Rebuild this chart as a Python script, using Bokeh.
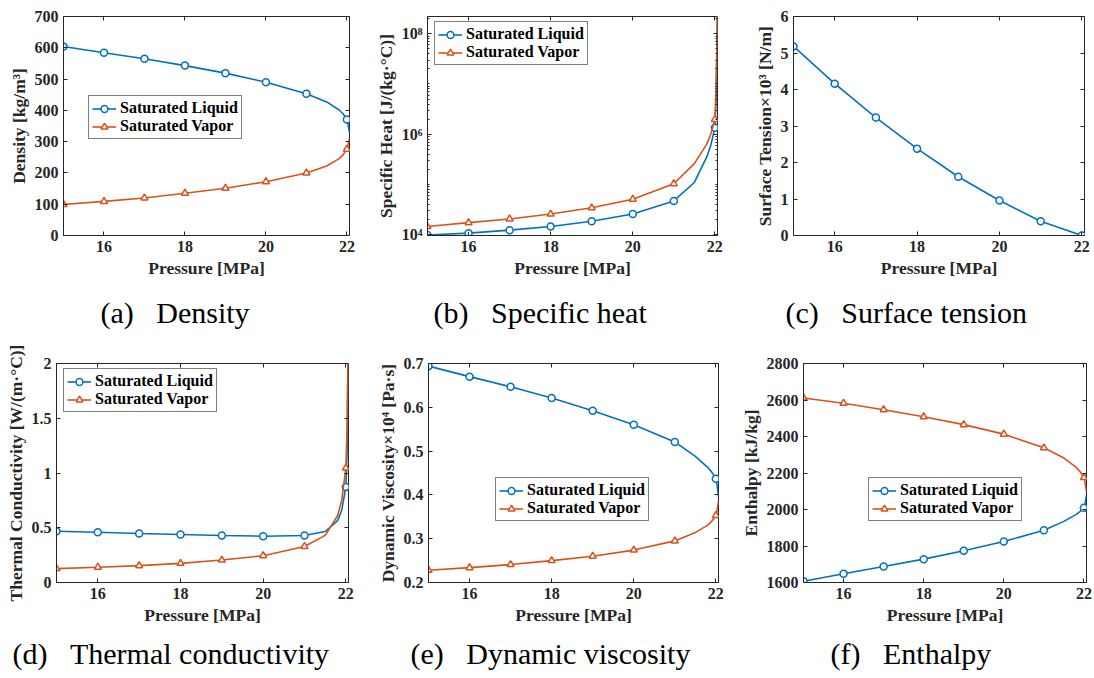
from bokeh.plotting import figure
from bokeh.models import (Range1d, FixedTicker, LinearAxis, LogAxis, Legend,
                          LegendItem, Title)
from bokeh.layouts import column, row
from bokeh.embed import file_html
from bokeh.resources import INLINE

# ---------------- data ----------------
pressure_marks = [15, 16, 17, 18, 19, 20, 21, 22]
pressure_curve = [15, 16, 17, 18, 19, 20, 21, 21.5, 21.8, 21.9, 22, 22.03, 22.064]

density_liquid = [604, 584, 565, 543, 519, 490, 453, 427, 402, 390, 371, 354, 330]
density_vapor = [99, 109, 120, 135, 151, 172, 200, 222, 245, 257, 276, 291, 310]

cp_liquid = [9.9e3, 1.08e4, 1.24e4, 1.46e4, 1.86e4, 2.59e4, 4.73e4, 1.1e5, 3.5e5,
             6.0e5, 1.35e6, 5e6, 3e8]
cp_vapor = [1.46e4, 1.75e4, 2.07e4, 2.59e4, 3.45e4, 5.1e4, 1.04e5, 2.6e5, 6.3e5,
            1.0e6, 1.97e6, 8e6, 3e8]

tension_pressure = [15, 16, 17, 18, 19, 20, 21, 22]
tension_liquid = [5.18, 4.16, 3.23, 2.38, 1.61, 0.96, 0.39, 0.0]

cond_liquid = [0.468, 0.459, 0.447, 0.438, 0.429, 0.423, 0.429, 0.465, 0.565, 0.66,
               0.873, 1.2, 2.5]
cond_vapor = [0.127, 0.139, 0.154, 0.175, 0.205, 0.245, 0.329, 0.43, 0.61, 0.75,
              1.045, 1.4, 2.5]

visc_liquid = [0.694, 0.670, 0.647, 0.621, 0.592, 0.560, 0.521, 0.488, 0.463, 0.452,
               0.437, 0.422, 0.396]
visc_vapor = [0.228, 0.234, 0.241, 0.250, 0.260, 0.274, 0.295, 0.314, 0.331, 0.340,
              0.353, 0.365, 0.385]

enth_liquid = [1607, 1648, 1688, 1728, 1774, 1825, 1886, 1935, 1972, 1988, 2009,
               2035, 2080]
enth_vapor = [2611, 2582, 2547, 2508, 2465, 2413, 2338, 2282, 2232, 2208, 2175,
              2145, 2100]

x_ticks = [16, 18, 20, 22]
x_tick_labels = ["16", "18", "20", "22"]

density_ticks = [0, 100, 200, 300, 400, 500, 600, 700]
density_labels = ["0", "100", "200", "300", "400", "500", "600", "700"]
cp_ticks = [1e4, 1e6, 1e8]
cp_labels = ["10\u2074", "10\u2076", "10\u2078"]
tension_ticks = [0, 1, 2, 3, 4, 5, 6]
tension_labels = ["0", "1", "2", "3", "4", "5", "6"]
cond_ticks = [0, 0.5, 1, 1.5, 2]
cond_labels = ["0", "0.5", "1", "1.5", "2"]
visc_ticks = [0.2, 0.3, 0.4, 0.5, 0.6, 0.7]
visc_labels = ["0.2", "0.3", "0.4", "0.5", "0.6", "0.7"]
enth_ticks = [1600, 1800, 2000, 2200, 2400, 2600, 2800]
enth_labels = ["1600", "1800", "2000", "2200", "2400", "2600", "2800"]

series_names = ["Saturated Liquid", "Saturated Vapor"]
captions = ["(a)\u00a0\u00a0\u00a0Density", "(b)\u00a0\u00a0\u00a0Specific heat",
            "(c)\u00a0\u00a0\u00a0Surface tension", "(d)\u00a0\u00a0\u00a0Thermal conductivity",
            "(e)\u00a0\u00a0\u00a0Dynamic viscosity", "(f)\u00a0\u00a0\u00a0Enthalpy"]

# ---------------- styling ----------------
BLUE = "#0072BD"
ORANGE = "#D95319"
AX = "#262626"
FONT = "Liberation Serif"


def marks(xs, ys):
    mx, my = [], []
    for x, y in zip(xs, ys):
        if x in pressure_marks:
            mx.append(x)
            my.append(y)
    return mx, my


def style_axis(ax, ticker, labels=None, ticks=None, hidden=False):
    ax.ticker = ticker
    ax.axis_line_color = AX if not hidden else None
    ax.major_tick_line_color = AX
    ax.minor_tick_line_color = AX
    ax.major_tick_in = 4
    ax.major_tick_out = 0
    ax.minor_tick_in = 2
    ax.minor_tick_out = 0
    if hidden:
        ax.major_label_text_font_size = "1px"
        ax.major_label_text_color = None
        ax.major_label_standoff = 0
    else:
        ax.major_label_text_font = FONT
        ax.major_label_text_font_style = "bold"
        ax.major_label_text_font_size = "16px"
        ax.major_label_text_color = AX
        ax.major_label_standoff = 5
        ax.axis_label_text_font = FONT
        ax.axis_label_text_font_style = "bold"
        ax.axis_label_text_font_size = "17.5px"
        ax.axis_label_text_color = AX
        ax.axis_label_standoff = 3
        if labels is not None:
            ax.major_label_overrides = {t: l for t, l in zip(ticks, labels)}


def make_panel(width, height, left, right, top, bottom, y_range, y_ticks, y_labels,
               ylabel, series, caption, cap_offset, cap_standoff, legend_loc=None,
               log=False, minor=None):
    p = figure(width=width, height=height, min_border_left=left, min_border_right=right,
               min_border_top=top, min_border_bottom=bottom,
               x_range=Range1d(15, 22.064), y_range=Range1d(*y_range),
               y_axis_type="log" if log else "linear",
               output_backend="svg", toolbar_location=None,
               x_axis_label="Pressure [MPa]", y_axis_label=ylabel)
    p.xgrid.visible = False
    p.ygrid.visible = False
    p.outline_line_color = AX
    p.outline_line_width = 1
    p.background_fill_color = "white"
    p.border_fill_color = "white"

    style_axis(p.xaxis[0], FixedTicker(ticks=x_ticks, minor_ticks=[]), x_tick_labels, x_ticks)
    style_axis(p.yaxis[0], FixedTicker(ticks=y_ticks, minor_ticks=minor or []), y_labels, y_ticks)

    top_ax = LinearAxis()
    style_axis(top_ax, FixedTicker(ticks=x_ticks, minor_ticks=[]), hidden=True)
    p.add_layout(top_ax, "above")
    right_ax = LogAxis() if log else LinearAxis()
    style_axis(right_ax, FixedTicker(ticks=y_ticks, minor_ticks=minor or []), hidden=True)
    p.add_layout(right_ax, "right")

    items = []
    for name, xs, ys, color, marker in series:
        l = p.line(xs, ys, line_color=color, line_width=1.6)
        mx, my = marks(xs, ys)
        s = p.scatter(mx, my, marker=marker, size=7, line_color=color, line_width=1.5,
                      fill_color="white")
        items.append(LegendItem(label=name, renderers=[l, s]))

    if legend_loc is not None:
        leg = Legend(items=items, location=legend_loc,
                     label_text_font=FONT, label_text_font_style="bold",
                     label_text_font_size="16px", label_text_color="black",
                     border_line_color="black", border_line_width=1,
                     background_fill_color="white", background_fill_alpha=1,
                     padding=3, spacing=0, margin=0, glyph_width=24, glyph_height=17,
                     label_height=17, label_standoff=4)
        p.add_layout(leg)

    p.add_layout(Title(text=caption, align="left", offset=cap_offset,
                       standoff=cap_standoff, vertical_align="bottom",
                       text_font=FONT, text_font_style="normal",
                       text_font_size="30px", text_color="black"), "below")
    return p


cp_minor = [k * 10 ** e for e in range(4, 9) for k in range(1, 10)
            if k * 10 ** e not in cp_ticks]

pa = make_panel(365, 346, 63, 16, 16, 111, (0, 700), density_ticks, density_labels,
                "Density [kg/m\u00b3]",
                [(series_names[0], pressure_curve, density_liquid, BLUE, "circle"),
                 (series_names[1], pressure_curve, density_vapor, ORANGE, "triangle")],
                captions[0], 37, 26, legend_loc=(25, 96))

pb = make_panel(365, 346, 62, 13, 16, 111, (9.7e3, 2.2e8), cp_ticks, cp_labels,
                "Specific Heat [J/(kg\u00b7\u00b0C)]",
                [(series_names[0], pressure_curve, cp_liquid, BLUE, "circle"),
                 (series_names[1], pressure_curve, cp_vapor, ORANGE, "triangle")],
                captions[1], 6, 26, legend_loc=(7, 170), log=True, minor=cp_minor)

pc = make_panel(364, 346, 63, 10, 16, 111, (0, 6), tension_ticks, tension_labels,
                "Surface Tension\u00d710\u00b3 [N/m]",
                [("Surface tension", tension_pressure, tension_liquid, BLUE, "circle")],
                captions[2], -8, 26)

pd_ = make_panel(365, 332, 56, 17, 17, 96, (0, 2), cond_ticks, cond_labels,
                 "Thermal Conductivity [W/(m\u00b7\u00b0C)]",
                 [(series_names[0], pressure_curve, cond_liquid, BLUE, "circle"),
                  (series_names[1], pressure_curve, cond_vapor, ORANGE, "triangle")],
                 captions[3], -44, 14, legend_loc=(7, 170))

pe = make_panel(365, 332, 63, 12, 17, 96, (0.2, 0.7), visc_ticks, visc_labels,
                "Dynamic Viscosity\u00d710\u2074 [Pa\u00b7s]",
                [(series_names[0], pressure_curve, visc_liquid, BLUE, "circle"),
                 (series_names[1], pressure_curve, visc_vapor, ORANGE, "triangle")],
                captions[4], -18, 14, legend_loc=(67, 61))

pf = make_panel(364, 332, 73, 8, 17, 96, (1600, 2800), enth_ticks, enth_labels,
                "Enthalpy [kJ/kg]",
                [(series_names[0], pressure_curve, enth_liquid, BLUE, "circle"),
                 (series_names[1], pressure_curve, enth_vapor, ORANGE, "triangle")],
                captions[5], 27, 14, legend_loc=(65, 61))

layout = column(row(pa, pb, pc), row(pd_, pe, pf))
open("out.html", "w").write(file_html(layout, INLINE))
